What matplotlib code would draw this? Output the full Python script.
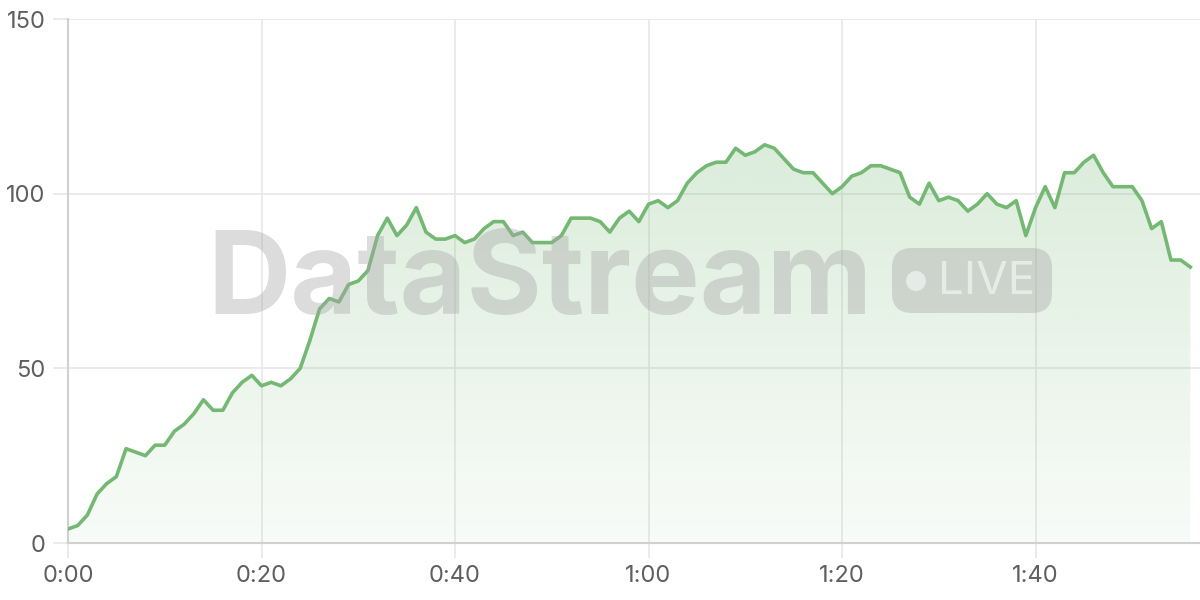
import matplotlib.pyplot as plt
import numpy as np
from matplotlib.patches import FancyBboxPatch, Circle

# one reading per minute, 0:00 .. 1:56
minutes = list(range(117))
values = [4, 5, 8, 14, 17, 19, 27, 26, 25, 28,
          28, 32, 34, 37, 41, 38, 38, 43, 46, 48,
          45, 46, 45, 47, 50, 58, 67, 70, 69, 74,
          75, 78, 88, 93, 88, 91, 96, 89, 87, 87,
          88, 86, 87, 90, 92, 92, 88, 89, 86, 86,
          86, 88, 93, 93, 93, 92, 89, 93, 95, 92,
          97, 98, 96, 98, 103, 106, 108, 109, 109, 113,
          111, 112, 114, 113, 110, 107, 106, 106, 103, 100,
          102, 105, 106, 108, 108, 107, 106, 99, 97, 103,
          98, 99, 98, 95, 97, 100, 97, 96, 98, 88,
          96, 102, 96, 106, 106, 109, 111, 106, 102, 102,
          102, 98, 90, 92, 81, 81, 79]
x_ticks = [0, 20, 40, 60, 80, 100]
x_labels = ["0:00", "0:20", "0:40", "1:00", "1:20", "1:40"]
y_ticks = [0, 50, 100, 150]

green = "#74b874"
grid_col = "#e8e8e8"
text_col = "#5f5f5f"

fig = plt.figure(figsize=(12, 6), dpi=100)
ax = fig.add_axes([68 / 1200, 57 / 600, 1 - 68 / 1200, 524 / 600])
ax.set_xlim(0, 117)
ax.set_ylim(0, 150)

# gradient area under the line
poly = ax.fill_between(minutes, values, 0, facecolor="none", edgecolor="none")
grad = np.zeros((256, 1, 4))
grad[:, 0, 0] = 0x74 / 255
grad[:, 0, 1] = 0xb8 / 255
grad[:, 0, 2] = 0x74 / 255
grad[:, 0, 3] = np.linspace(0.26, 0.05, 256)
img = ax.imshow(grad, extent=[0, 116, 0, max(values)], aspect="auto",
                origin="upper", zorder=1)
img.set_clip_path(poly.get_paths()[0], transform=ax.transData)

ax.plot(minutes, values, color=green, lw=2.6, zorder=3, solid_joinstyle="round")

ax.set_xticks(x_ticks)
ax.set_xticklabels(x_labels)
ax.set_yticks(y_ticks)
ax.grid(True, color=grid_col, lw=1.2)
ax.set_axisbelow(True)
ax.tick_params(length=11, width=1.2, color=grid_col, labelcolor=text_col,
               labelsize=17, pad=5)
for lab in ax.get_xticklabels() + ax.get_yticklabels():
    lab.set_family("Inter")
for s in ["top", "right"]:
    ax.spines[s].set_visible(False)
for s in ["left", "bottom"]:
    ax.spines[s].set_color("#d0d0d0")
    ax.spines[s].set_linewidth(1.5)

# watermark (positions in inches, 100 px per inch)
px = fig.dpi_scale_trans
fig.text(5.40, 6 - 2.84, "DataStream", fontsize=83, fontweight="bold",
         family="Inter", color="#a8a8a8", alpha=0.4, ha="center", va="center",
         transform=px, zorder=5)
box = FancyBboxPatch((8.92, 6 - 3.13), 1.60, 0.65,
                     boxstyle="round,pad=0,rounding_size=0.2",
                     transform=px, facecolor="#a8a8a8", alpha=0.4,
                     edgecolor="none", zorder=5)
fig.add_artist(box)
fig.add_artist(Circle((9.16, 6 - 2.81), 0.1, transform=px,
                      facecolor="white", alpha=0.55, edgecolor="none", zorder=6))
fig.text(9.865, 6 - 2.82, "LIVE", fontsize=33, family="Inter",
         color="white", alpha=0.55, ha="center", va="center",
         transform=px, zorder=6)

fig.savefig("out.png", dpi=100)
